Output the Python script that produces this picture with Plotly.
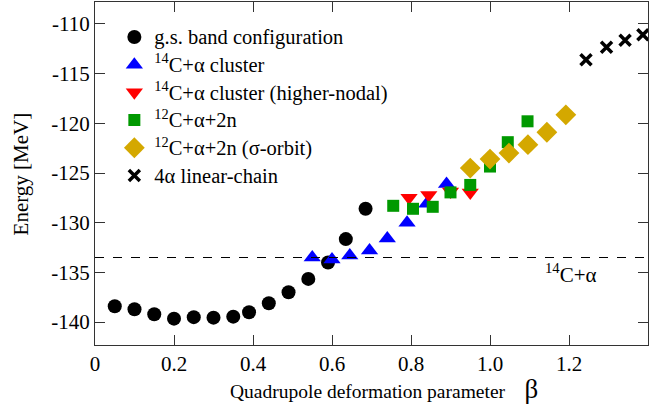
import plotly.graph_objects as go

# g.s. band configuration
gs_beta = [0.05, 0.10, 0.15, 0.20, 0.25, 0.30, 0.35, 0.39, 0.44, 0.49, 0.54, 0.59, 0.635, 0.685]
gs_E = [-138.4, -138.7, -139.2, -139.65, -139.5, -139.55, -139.45, -139.0, -138.1, -137.0, -135.65, -134.0, -131.65, -128.6]

# 14C+alpha cluster
c14_beta = [0.55, 0.60, 0.645, 0.695, 0.74, 0.79, 0.84, 0.89]
c14_E = [-133.5, -133.7, -133.3, -132.8, -131.6, -130.0, -128.1, -126.1]

# 14C+alpha cluster (higher-nodal)
c14h_beta = [0.795, 0.845, 0.90, 0.95]
c14h_E = [-127.5, -127.2, -126.85, -126.95]

# 12C+alpha+2n
c12_beta = [0.755, 0.805, 0.855, 0.90, 0.95, 1.00, 1.045, 1.095]
c12_E = [-128.3, -128.6, -128.4, -126.95, -126.2, -124.35, -121.9, -119.8]

# 12C+alpha+2n (sigma-orbit)
c12s_beta = [0.95, 1.00, 1.048, 1.096, 1.144, 1.192]
c12s_E = [-124.5, -123.6, -123.0, -122.15, -120.9, -119.15]

# 4alpha linear-chain
chain_beta = [1.243, 1.295, 1.342, 1.387]
chain_E = [-113.6, -112.35, -111.65, -111.1]

threshold_E = -133.5

xticks = [0, 0.2, 0.4, 0.6, 0.8, 1.0, 1.2, 1.4]
xticktext = ["0", "0.2", "0.4", "0.6", "0.8", "1.0", "1.2", "1.4"]
yticks = [-140, -135, -130, -125, -120, -115, -110]
yticktext = ["-140", "-135", "-130", "-125", "-120", "-115", "-110"]

FONT = "Liberation Serif"
FS = 21


def lg(t):
    return "<span style='font-size:20.5px'>" + t + "</span>"


fig = go.Figure()
fig.add_trace(go.Scatter(x=gs_beta, y=gs_E, mode="markers", name=lg("g.s. band configuration"),
                         marker=dict(symbol="circle", size=14, color="black")))
fig.add_trace(go.Scatter(x=c14_beta, y=c14_E, mode="markers", name=lg("<sup>14</sup>C+α cluster"),
                         marker=dict(symbol="triangle-up", size=15, color="#0000ff")))
fig.add_trace(go.Scatter(x=c14h_beta, y=c14h_E, mode="markers", name=lg("<sup>14</sup>C+α cluster (higher-nodal)"),
                         marker=dict(symbol="triangle-down", size=15, color="#ff0000")))
fig.add_trace(go.Scatter(x=c12_beta, y=c12_E, mode="markers", name=lg("<sup>12</sup>C+α+2n"),
                         marker=dict(symbol="square", size=12, color="#009900")))
fig.add_trace(go.Scatter(x=c12s_beta, y=c12s_E, mode="markers", name=lg("<sup>12</sup>C+α+2n (σ-orbit)"),
                         marker=dict(symbol="diamond", size=16, color="#d4a800")))
fig.add_trace(go.Scatter(x=chain_beta, y=chain_E, mode="markers", name=lg("4α linear-chain"),
                         marker=dict(symbol="x-thin", size=11, color="black",
                                     line=dict(width=3.5, color="black"))))

fig.add_shape(type="line", xref="paper", x0=0, x1=1, yref="y", y0=threshold_E, y1=threshold_E,
              line=dict(color="black", width=1, dash="dash"))
fig.add_annotation(x=1.205, y=-135.1, text="<sup>14</sup>C+α", showarrow=False,
                   font=dict(family=FONT, size=FS, color="black"))

# axis titles
fig.add_annotation(xref="paper", yref="paper", x=0.523, y=-0.127, xanchor="center", yanchor="middle",
                   text="Quadrupole deformation parameter \u00a0\u00a0 <span style='font-size:27px'>β</span>",
                   showarrow=False, font=dict(family=FONT, size=19.5, color="black"))
fig.add_annotation(xref="paper", yref="paper", x=-0.134, y=0.5, xanchor="center", yanchor="middle",
                   text="Energy [MeV]", textangle=-90,
                   showarrow=False, font=dict(family=FONT, size=FS, color="black"))

axis_common = dict(showline=True, linecolor="#333", linewidth=1, mirror="ticks", ticks="inside",
                   ticklen=10, tickcolor="#333", showgrid=False, zeroline=False,
                   tickfont=dict(family=FONT, size=FS, color="black"))
fig.update_xaxes(range=[0, 1.4], tickvals=xticks, ticktext=xticktext, **axis_common)
fig.update_yaxes(range=[-142.3, -107.8], tickvals=yticks, ticktext=yticktext, **axis_common)

fig.update_layout(width=659, height=413, margin=dict(l=95, r=11, t=2, b=68),
                  plot_bgcolor="white", paper_bgcolor="white",
                  font=dict(family=FONT, size=FS, color="black"),
                  legend=dict(x=0.035, y=0.953, xanchor="left", yanchor="top",
                              bgcolor="rgba(0,0,0,0)", font=dict(family=FONT, size=19),
                              itemwidth=30, tracegroupgap=0))

fig.write_html("out.html")
